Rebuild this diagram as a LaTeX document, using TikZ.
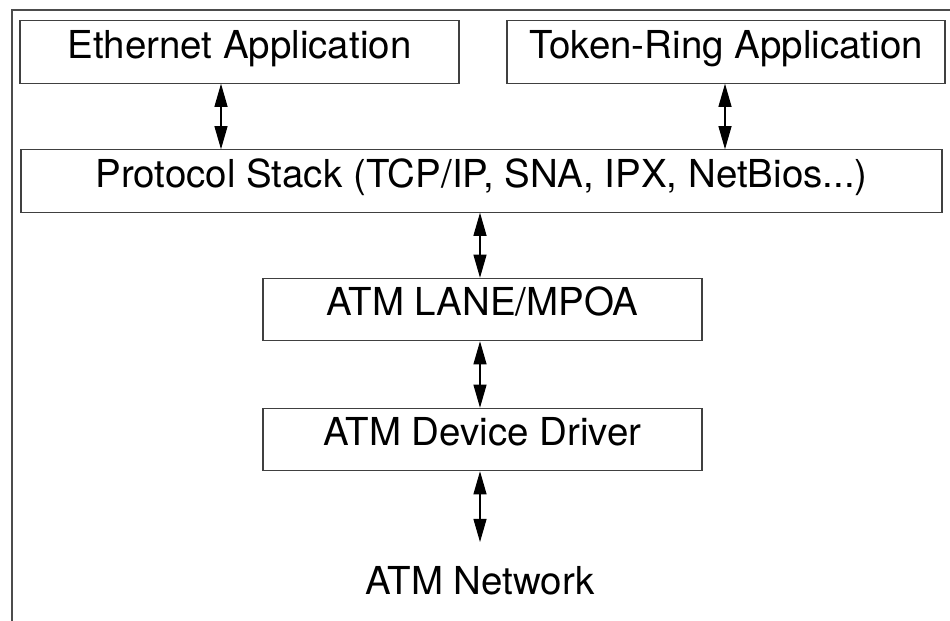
\documentclass[tikz,border=0pt]{standalone}
\usepackage{fontspec}
\setmainfont{TeX Gyre Heros}
\usetikzlibrary{arrows.meta}

\begin{document}
\begin{tikzpicture}[every node/.style={font=\fontsize{21.9}{26}\selectfont},
    layer/.style={draw=black!75, line width=0.6pt, minimum height=1.25cm, text height=0.72em, text depth=0pt, inner sep=0pt},
    dbl/.style={{Triangle[length=0.46cm,width=0.26cm]}-{Triangle[length=0.46cm,width=0.26cm]}, line width=0.6pt}]
  \useasboundingbox (0,0) rectangle (19,12.42);
  % frame
  \draw[black!70, line width=0.8pt] (0.24,0) -- (0.24,12.22) -- (19,12.22);
  % layers
  \node[layer, minimum width=8.78cm] (eth) at (4.79,11.38) {Ethernet Application};
  \node[layer, minimum width=8.76cm] (tok) at (14.52,11.38) {Token-Ring Application};
  \node[layer, minimum width=18.42cm] (stack) at (9.63,8.80) {Protocol Stack (TCP/IP, SNA, IPX, NetBios...)};
  \node[layer, minimum width=8.78cm] (lane) at (9.65,6.23) {ATM LANE/MPOA};
  \node[layer, minimum width=8.78cm] (drv) at (9.65,3.63) {ATM Device Driver};
  \node[anchor=base] (net) at (9.60,0.52) {ATM Network};
  \coordinate (netin) at (9.60,1.58);
  % arrows
  \coordinate (ethx) at (4.42,0);
  \coordinate (tokx) at (14.50,0);
  \coordinate (midx) at (9.60,0);
  \draw[dbl] (eth.south -| ethx) -- (stack.north -| ethx);
  \draw[dbl] (tok.south -| tokx) -- (stack.north -| tokx);
  \foreach \a/\b in {stack/lane, lane/drv} {
    \draw[dbl] (\a.south -| midx) -- (\b.north -| midx);
  }
  \draw[dbl] (drv.south -| midx) -- (netin);
\end{tikzpicture}
\end{document}
